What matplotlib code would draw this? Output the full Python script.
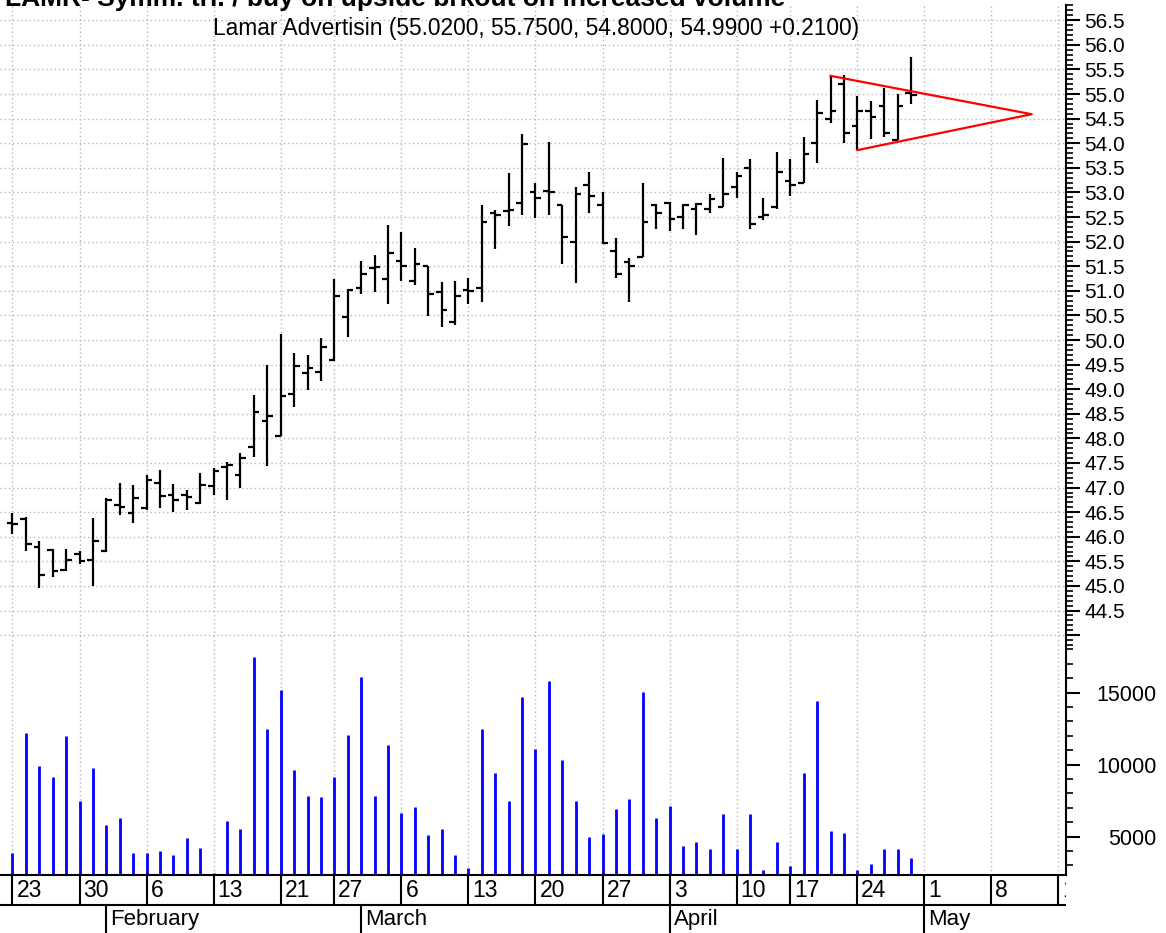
import matplotlib
matplotlib.use('Agg')
import matplotlib.pyplot as plt
from matplotlib.ticker import MultipleLocator, FuncFormatter
import numpy as np
import pandas as pd

plt.rcParams['font.family'] = ['Liberation Sans', 'DejaVu Sans']

# trading days shown (2006), plus empty days to the right
holidays = ['2006-02-20', '2006-04-14']
days = pd.bdate_range('2006-01-23', '2006-04-28')
days = days[~days.isin(pd.to_datetime(holidays))]
future = pd.bdate_range('2006-05-01', '2006-05-19')

opens = [46.28, 46.37, 45.80, 45.73, 45.32, 45.65, 45.53, 45.71, 46.65, 46.48,
         46.58, 47.10, 46.85, 46.85, 46.68, 47.03, 47.42, 47.25, 47.83, 48.36,
         48.05, 48.91, 49.33, 49.35, 49.60, 50.46, 51.05, 51.47, 51.24, 51.61,
         51.20, 51.50, 50.98, 50.37, 51.02, 51.05, 52.59, 52.63, 52.78, 53.01,
         53.02, 52.74, 52.00, 53.15, 52.74, 51.81, 51.58, 51.69, 52.74, 52.78,
         52.50, 52.66, 52.66, 52.70, 53.11, 53.50, 52.50, 52.71, 53.24, 53.20,
         54.01, 54.50, 55.20, 54.35, 54.65, 54.76, 54.06, 55.02]
highs = [46.48, 46.40, 45.91, 45.75, 45.76, 45.71, 46.39, 46.78, 47.10, 47.06,
         47.25, 47.35, 47.08, 46.95, 47.30, 47.39, 47.52, 47.71, 48.88, 49.49,
         50.12, 49.74, 49.69, 50.05, 51.24, 51.03, 51.61, 51.73, 52.34, 52.19,
         51.87, 51.50, 51.17, 51.20, 51.27, 52.74, 52.64, 53.39, 54.18, 53.20,
         54.02, 52.74, 53.11, 53.42, 53.01, 52.08, 51.66, 53.20, 52.76, 52.81,
         52.76, 52.78, 52.97, 53.69, 53.42, 53.68, 52.89, 53.83, 53.68, 54.13,
         54.88, 55.37, 55.38, 54.96, 54.86, 55.13, 55.01, 55.75]
lows = [46.06, 45.72, 44.96, 45.19, 45.30, 45.44, 44.99, 45.70, 46.44, 46.29,
        46.55, 46.58, 46.50, 46.54, 46.66, 46.85, 46.75, 47.00, 47.63, 47.44,
        48.05, 48.64, 48.98, 49.17, 49.58, 50.06, 50.93, 50.97, 50.74, 51.20,
        51.12, 50.49, 50.26, 50.30, 50.74, 50.78, 51.84, 52.32, 52.54, 52.47,
        52.55, 51.54, 51.16, 52.59, 51.96, 51.27, 50.78, 51.69, 52.25, 52.21,
        52.25, 52.13, 52.59, 52.70, 52.89, 52.25, 52.44, 52.67, 52.92, 53.20,
        53.60, 54.41, 54.01, 53.86, 54.08, 54.13, 54.06, 54.80]
closes = [46.25, 45.85, 45.22, 45.31, 45.52, 45.50, 45.92, 46.75, 46.60, 46.78,
          47.15, 46.83, 46.74, 46.80, 47.06, 47.34, 47.45, 47.61, 48.54, 48.46,
          48.87, 49.48, 49.43, 49.86, 50.90, 51.01, 51.35, 51.48, 51.77, 51.51,
          51.54, 50.93, 50.61, 50.90, 51.00, 52.40, 52.55, 52.65, 53.98, 52.89,
          53.00, 52.10, 52.97, 52.92, 51.98, 51.35, 51.50, 52.40, 52.59, 52.45,
          52.74, 52.76, 52.86, 52.97, 53.33, 52.36, 52.55, 53.42, 53.15, 53.79,
          54.62, 54.66, 54.20, 54.65, 54.54, 54.21, 54.76, 54.99]
volume = [3840, 12210, 9880, 9140, 11980, 7440, 9770, 5770, 6280, 3840,
          3840, 3980, 3720, 4880, 4230, 2440, 6050, 5510, 17510, 12490,
          15190, 9650, 7840, 7720, 9140, 12090, 16090, 7840, 11330, 6670,
          7070, 5140, 5510, 3720, 2790, 12490, 9400, 7470, 14670, 11070,
          15840, 10300, 7470, 5000, 5190, 6950, 7580, 15070, 6300, 7090,
          4370, 4630, 4120, 6580, 4120, 6580, 2700, 4630, 2950, 9400,
          14420, 5400, 5280, 2700, 3070, 4120, 4120, 3490]

# symmetrical triangle: upper start, apex, lower start
tri_dates = ['2006-04-20', '2006-05-11', '2006-04-24']
tri_price = [55.37, 54.59, 53.86]

title = 'LAMR- Symm. tri. / buy on upside brkout on increased volume'
subtitle = 'Lamar Advertisin (55.0200, 55.7500, 54.8000, 54.9900 +0.2100)'

all_days = days.append(future)
x = np.arange(len(days))
pos = {d.strftime('%Y-%m-%d'): i for i, d in enumerate(all_days)}
tri_x = [pos[d] for d in tri_dates]

week_idx = [i for i, d in enumerate(all_days)
            if i == 0 or d.isocalendar()[1] != all_days[i - 1].isocalendar()[1]]
month_idx = [i for i, d in enumerate(all_days)
             if i > 0 and d.month != all_days[i - 1].month]

W, H = 1166, 933
fig = plt.figure(figsize=(W / 100, H / 100), dpi=100)
xlim = (-0.93, 78.56)
right = 1066 / W

ax_p = fig.add_axes([0, 1 - 645 / H, right, 640 / H])
ax_v = fig.add_axes([0, 1 - 875 / H, right, 230 / H])
ax_d = fig.add_axes([0, 0, right, 58 / H])

grid_kw = dict(color='#b8b8b8', lw=1, linestyle=(0, (1, 2)), zorder=0)

# price panel
ax_p.set_xlim(*xlim)
ax_p.set_ylim(43.80, 56.81)
for i in week_idx:
    ax_p.axvline(i, **grid_kw)
for yv in np.arange(44.0, 56.51, 0.5):
    ax_p.axhline(yv, **grid_kw)
ax_p.vlines(x, lows, highs, color='black', lw=1.6)
ax_p.hlines(opens, x - 0.42, x, color='black', lw=1.6)
ax_p.hlines(closes, x, x + 0.42, color='black', lw=1.6)
ax_p.plot(tri_x, tri_price, color='#ff0000', lw=1.6)

ax_p.yaxis.tick_right()
ax_p.yaxis.set_major_locator(MultipleLocator(0.5))
ax_p.yaxis.set_minor_locator(MultipleLocator(0.1))
ax_p.yaxis.set_major_formatter(FuncFormatter(lambda v, p: f'{v:.1f}' if v >= 44.45 else ''))
ax_p.tick_params(axis='y', which='major', length=10, width=1.5, pad=3.2, labelsize=15)
ax_p.tick_params(axis='y', which='minor', length=5, width=1.2)
ax_p.set_xticks([])
for s in ['top', 'left', 'bottom']:
    ax_p.spines[s].set_visible(False)
ax_p.spines['right'].set_linewidth(1.5)

# volume panel
ax_v.set_xlim(*xlim)
ax_v.set_ylim(2330, 18310)
for i in week_idx:
    ax_v.axvline(i, **grid_kw)
ax_v.vlines(x, 2330, volume, color='#0000ff', lw=2)
ax_v.yaxis.tick_right()
ax_v.yaxis.set_major_locator(MultipleLocator(5000))
ax_v.yaxis.set_minor_locator(MultipleLocator(1000))
ax_v.tick_params(axis='y', which='major', length=10, width=1.5, pad=55, labelsize=15.5)
ax_v.tick_params(axis='y', which='minor', length=5, width=1.2)
for lab in ax_v.get_yticklabels():
    lab.set_horizontalalignment('right')
ax_v.set_xticks([])
for s in ['top', 'left']:
    ax_v.spines[s].set_visible(False)
ax_v.spines['right'].set_linewidth(1.5)
ax_v.spines['bottom'].set_linewidth(1.5)

# date axis
ax_d.set_xlim(*xlim)
ax_d.set_ylim(0, 1)
ax_d.axis('off')
mid = 0.483
ax_d.axhline(mid, color='black', lw=1.5)
for i in week_idx:
    ax_d.plot([i, i], [1, mid], color='black', lw=1.5)
    ax_d.text(i + 0.3, 0.74, str(all_days[i].day), fontsize=16.5,
              ha='left', va='center', clip_on=True)
for i in month_idx:
    ax_d.plot([i, i], [mid, 0], color='black', lw=1.5)
    ax_d.text(i + 0.3, 0.23, all_days[i].strftime('%B'), fontsize=16,
              ha='left', va='center', clip_on=True)

fig.text(5 / W, 1 - 6 / H, title, fontsize=19, fontweight='bold', va='baseline')
fig.text(536 / W, 1 - 35 / H, subtitle, fontsize=16.4, ha='center', va='baseline')

fig.savefig('out.png', dpi=100)
